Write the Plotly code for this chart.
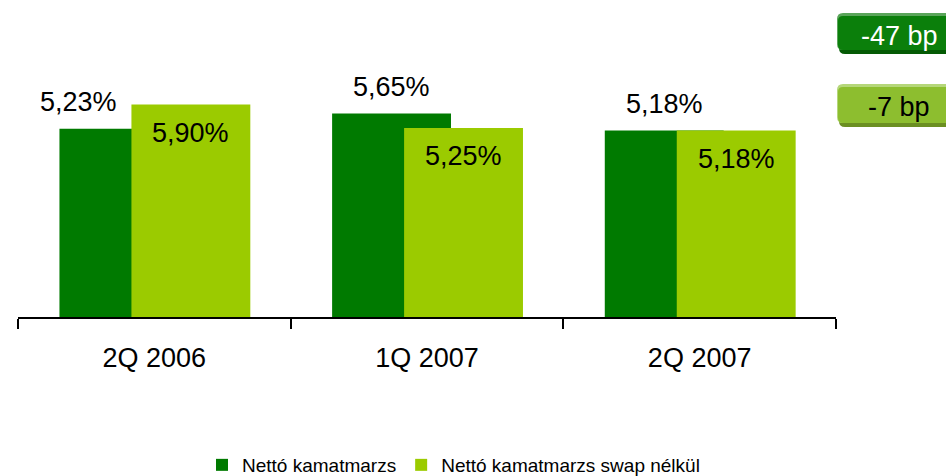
import plotly.graph_objects as go

categories = ["2Q 2006", "1Q 2007", "2Q 2007"]
netto = [5.23, 5.65, 5.18]
netto_swap_nelkul = [5.90, 5.25, 5.18]
netto_labels = ["5,23%", "5,65%", "5,18%"]
swap_labels = ["5,90%", "5,25%", "5,18%"]
series_names = ["Nettó kamatmarzs", "Nettó kamatmarzs swap nélkül"]
badges = ["-47 bp", "-7 bp"]

DARK = "#007A00"
LIGHT = "#9BCB00"
FONT = "Liberation Sans, Arial, sans-serif"

W, H = 946, 476
ML, MR, MT, MB = 18, 110, 29, 159
PW = W - ML - MR
PH = H - MT - MB

BAR_W = 0.436
OFF_DARK = -0.348
OFF_LIGHT = -0.084

fig = go.Figure()
fig.add_trace(go.Bar(x=categories, y=netto, name=series_names[0], marker_color=DARK,
                     width=BAR_W, offset=OFF_DARK, marker_line_width=0))
fig.add_trace(go.Bar(x=categories, y=netto_swap_nelkul, name=series_names[1], marker_color=LIGHT,
                     width=BAR_W, offset=OFF_LIGHT, marker_line_width=0))

dark_label_xshift = [-40, 0, 0]
for i, (v, t) in enumerate(zip(netto, netto_labels)):
    fig.add_annotation(x=i + OFF_DARK + BAR_W / 2, y=v, text=t, showarrow=False,
                       yshift=27, xshift=dark_label_xshift[i], yanchor="middle",
                       font=dict(family=FONT, size=27, color="black"))
for i, (v, t) in enumerate(zip(netto_swap_nelkul, swap_labels)):
    fig.add_annotation(x=i + OFF_LIGHT + BAR_W / 2, y=v, text=t, showarrow=False,
                       yshift=-28, yanchor="middle",
                       font=dict(family=FONT, size=27, color="black"))


def px_x(p):
    return (p - ML) / PW


def px_y(p):
    return (H - MB - p) / PH


def rrect(x0, y0, x1, y1, r):
    rx = r / PW
    ry = r / PH
    X0, X1 = px_x(x0), px_x(x1)
    Y0, Y1 = px_y(y0), px_y(y1)  # Y0 top (larger), Y1 bottom
    return (f"M{X0 + rx},{Y0} L{X1 - rx},{Y0} Q{X1},{Y0} {X1},{Y0 - ry} "
            f"L{X1},{Y1 + ry} Q{X1},{Y1} {X1 - rx},{Y1} L{X0 + rx},{Y1} "
            f"Q{X0},{Y1} {X0},{Y1 + ry} L{X0},{Y0 - ry} Q{X0},{Y0} {X0 + rx},{Y0} Z")


boxes = [
    dict(y0=13, y1=50, fill="#0B7F0B", shadow="#045A04", hi="#5AA55A", text=badges[0], tc="white", ty=36),
    dict(y0=84, y1=123, fill="#8DBE2F", shadow="#6B8F22", hi="#B5D77A", text=badges[1], tc="black", ty=107),
]
for b in boxes:
    fig.add_shape(type="path", path=rrect(839, b["y0"] + 4, 970, b["y1"] + 4, 6),
                  xref="paper", yref="paper", fillcolor=b["shadow"], line_width=0, layer="above")
    fig.add_shape(type="path", path=rrect(837, b["y0"], 970, b["y1"], 6),
                  xref="paper", yref="paper", fillcolor=b["hi"], line_width=0, layer="above")
    fig.add_shape(type="path", path=rrect(838, b["y0"] + 3, 970, b["y1"], 5),
                  xref="paper", yref="paper", fillcolor=b["fill"], line_width=0, layer="above")
    fig.add_annotation(x=px_x(899), y=px_y(b["ty"]), xref="paper", yref="paper",
                       text=b["text"], showarrow=False, xanchor="center", yanchor="middle",
                       font=dict(family=FONT, size=27, color=b["tc"]))

fig.update_layout(
    width=W, height=H,
    margin=dict(l=ML, r=MR, t=MT, b=MB, pad=0, autoexpand=False),
    barmode="overlay",
    plot_bgcolor="white", paper_bgcolor="white",
    font=dict(family=FONT, color="black"),
    showlegend=True,
    legend=dict(orientation="h", x=px_x(705), xanchor="right", y=px_y(465), yanchor="middle",
                font=dict(family=FONT, size=19, color="black"),
                itemwidth=30, traceorder="normal", bgcolor="rgba(0,0,0,0)"),
    xaxis=dict(type="category", range=[-0.5, 2.5], showline=True, linecolor="black", linewidth=1.5,
               ticks="outside", tickson="boundaries", ticklen=10, tickwidth=1.5, tickcolor="black",
               tickfont=dict(family=FONT, size=27, color="black"), ticklabelstandoff=16,
               showgrid=False, zeroline=False, fixedrange=True, automargin=False),
    yaxis=dict(range=[0, 8], visible=False, showgrid=False, zeroline=False, fixedrange=True,
               automargin=False),
)

fig.write_html("out.html", config={"displayModeBar": False},
               post_script="document.body.style.margin='0';document.body.style.overflow='hidden';")
